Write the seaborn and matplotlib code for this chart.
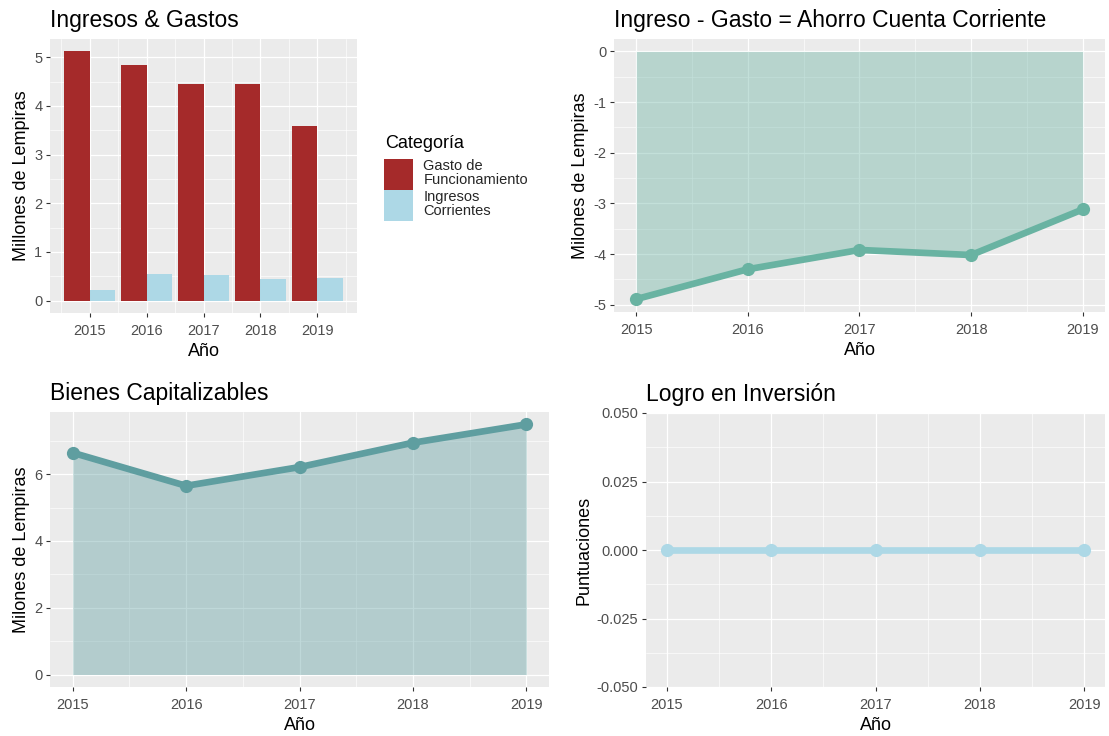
import seaborn as sns
import matplotlib.pyplot as plt
import pandas as pd
from matplotlib.ticker import AutoMinorLocator, FormatStrFormatter, MultipleLocator

# datos
anios = [2015, 2016, 2017, 2018, 2019]
gasto_funcionamiento = [5.12, 4.85, 4.45, 4.45, 3.59]
ingresos_corrientes = [0.22, 0.54, 0.52, 0.44, 0.47]
ahorro_corriente = [-4.89, -4.30, -3.92, -4.02, -3.12]
bienes_capitalizables = [6.64, 5.65, 6.21, 6.94, 7.49]
logro_inversion = [0, 0, 0, 0, 0]
categorias = ['Gasto de\nFuncionamiento', 'Ingresos\nCorrientes']

df_ig = pd.DataFrame({
    'Año': anios * 2,
    'Valor': gasto_funcionamiento + ingresos_corrientes,
    'Categoría': [categorias[0]] * 5 + [categorias[1]] * 5,
})
df_ahorro = pd.DataFrame({'Año': anios, 'Valor': ahorro_corriente})
df_bienes = pd.DataFrame({'Año': anios, 'Valor': bienes_capitalizables})
df_logro = pd.DataFrame({'Año': anios, 'Valor': logro_inversion})

# estilo tipo ggplot
sns.set_theme(style="darkgrid", rc={
    'axes.facecolor': '#EBEBEB',
    'grid.color': 'white',
    'axes.edgecolor': '#EBEBEB',
    'xtick.color': '#333333',
    'ytick.color': '#333333',
    'xtick.labelcolor': '#4D4D4D',
    'ytick.labelcolor': '#4D4D4D',
    'xtick.bottom': True,
    'ytick.left': True,
    'xtick.major.size': 3,
    'ytick.major.size': 3,
    'xtick.major.width': 0.8,
    'ytick.major.width': 0.8,
    'xtick.major.pad': 5,
    'ytick.major.pad': 2.5,
    'axes.unicode_minus': False,
})
plt.rcParams['font.family'] = ['Liberation Sans', 'DejaVu Sans']

W, H = 1109, 736
fig = plt.figure(figsize=(W / 100, H / 100), dpi=100)

TICK = 10.5
LAB = 13


def make_ax(x0, y0, x1, y1):
    return fig.add_axes([x0 / W, 1 - y1 / H, (x1 - x0) / W, (y1 - y0) / H])


def estilo(ax, titulo, ylab):
    ax.set_title(titulo, loc='left', fontsize=16.5, pad=8.5, color='black')
    ax.set_xlabel('Año', fontsize=LAB, labelpad=3.5, color='black')
    ax.set_ylabel(ylab, fontsize=LAB, labelpad=3, color='black')
    ax.tick_params(axis='both', labelsize=TICK)
    ax.xaxis.set_minor_locator(AutoMinorLocator(2))
    ax.yaxis.set_minor_locator(AutoMinorLocator(2))
    ax.grid(which='major', color='white', linewidth=0.9)
    ax.grid(which='minor', color='white', linewidth=0.45)
    ax.tick_params(which='minor', length=0)
    for s in ax.spines.values():
        s.set_visible(False)
    ax.set_axisbelow(True)


# Panel 1: Ingresos & Gastos
ax1 = make_ax(50, 39, 357, 313)
sns.barplot(data=df_ig, x='Año', y='Valor', hue='Categoría', native_scale=True,
            palette=['#A52A2A', '#ADD8E6'], width=0.9, gap=0, dodge=True,
            saturation=1, linewidth=0, ax=ax1)
ax1.set_xlim(2014.3, 2019.7)
ax1.set_ylim(-0.256, 5.376)
ax1.set_xticks(anios)
ax1.set_xticklabels([str(a) for a in anios])
ax1.yaxis.set_major_locator(MultipleLocator(1))
estilo(ax1, 'Ingresos & Gastos', 'Millones de Lempiras')
handles, labels = ax1.get_legend_handles_labels()
ax1.legend_.remove()
fig.text(385 / W, 1 - 143 / H, 'Categoría', fontsize=LAB, ha='left', va='center',
         color='black')
leg = fig.legend(handles, labels, loc='upper left',
                 bbox_to_anchor=(384 / W, 1 - 159 / H), frameon=False,
                 fontsize=TICK, handlelength=2.0, handleheight=2.89,
                 labelspacing=0.0, handletextpad=0.7, borderaxespad=0,
                 borderpad=0.0)
for t in leg.get_texts():
    t.set_linespacing(1.0)

# Panel 2: Ahorro cuenta corriente
ax2 = make_ax(614, 39, 1105, 312)
ax2.fill_between(df_ahorro['Año'], df_ahorro['Valor'], 0, color='#69b3a2',
                 alpha=0.4, linewidth=0, zorder=3)
sns.lineplot(data=df_ahorro, x='Año', y='Valor', color='#69b3a2', linewidth=4.8,
             marker='o', markersize=9.5, markeredgewidth=0, ax=ax2, zorder=4)
ax2.set_xlim(2014.8, 2019.2)
ax2.set_ylim(-5.145, 0.245)
ax2.set_xticks(anios)
ax2.xaxis.set_major_formatter(FormatStrFormatter('%d'))
ax2.yaxis.set_major_locator(MultipleLocator(1))
estilo(ax2, 'Ingreso - Gasto = Ahorro Cuenta Corriente', 'Milones de Lempiras')

# Panel 3: Bienes Capitalizables
ax3 = make_ax(50, 412, 549, 687)
ax3.fill_between(df_bienes['Año'], df_bienes['Valor'], 0, color='#5F9EA0',
                 alpha=0.4, linewidth=0, zorder=3)
sns.lineplot(data=df_bienes, x='Año', y='Valor', color='#5F9EA0', linewidth=4.8,
             marker='o', markersize=9.5, markeredgewidth=0, ax=ax3, zorder=4)
ax3.set_xlim(2014.8, 2019.2)
ax3.set_ylim(-0.374, 7.86)
ax3.set_xticks(anios)
ax3.xaxis.set_major_formatter(FormatStrFormatter('%d'))
ax3.yaxis.set_major_locator(MultipleLocator(2))
estilo(ax3, 'Bienes Capitalizables', 'Milones de Lempiras')

# Panel 4: Logro en Inversion
ax4 = make_ax(646, 413, 1105, 687)
sns.lineplot(data=df_logro, x='Año', y='Valor', color='#ADD8E6', linewidth=4.8,
             marker='o', markersize=9.5, markeredgewidth=0, ax=ax4, zorder=4)
ax4.set_xlim(2014.8, 2019.2)
ax4.set_ylim(-0.05, 0.05)
ax4.set_xticks(anios)
ax4.xaxis.set_major_formatter(FormatStrFormatter('%d'))
ax4.yaxis.set_major_locator(MultipleLocator(0.025))
ax4.yaxis.set_major_formatter(FormatStrFormatter('%.3f'))
estilo(ax4, 'Logro en Inversión', 'Puntuaciones')

fig.savefig('out.png', dpi=100)
